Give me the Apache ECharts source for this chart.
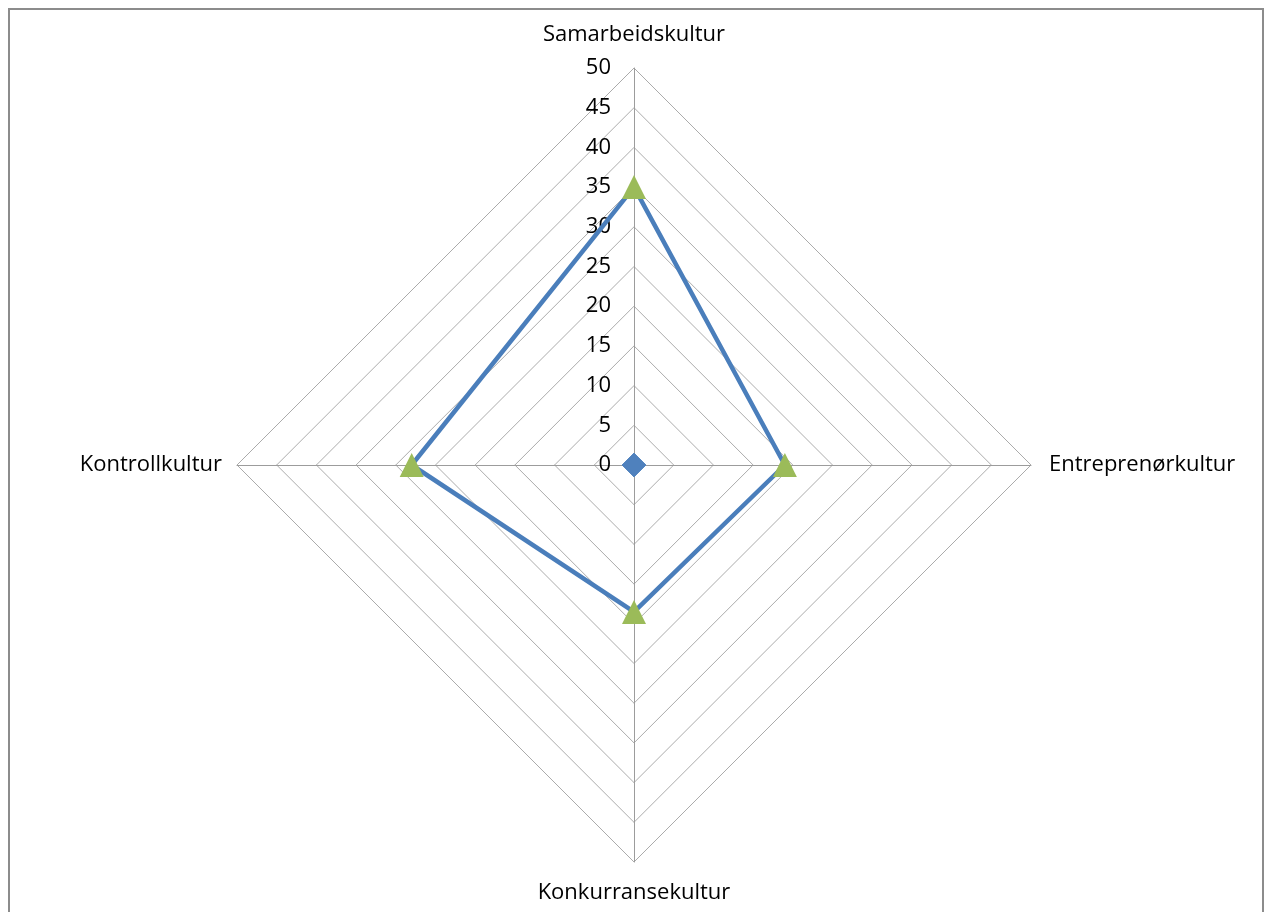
<!DOCTYPE html>
<html>
<head>
<meta charset="utf-8">
<script src="https://cdn.jsdelivr.net/npm/echarts@6/dist/echarts.min.js"></script>
<style>
  html, body { margin: 0; padding: 0; background: #fff; }
  #main { width: 1269px; height: 912px; }
  .frame { position: absolute; left: 8px; top: 8px; width: 1252px; height: 910px; border: 2px solid #8c8c8c; border-bottom: none; pointer-events: none; }
</style>
</head>
<body>
<div id="main"></div>
<div class="frame"></div>
<script>
// indicator order is counter-clockwise from the top
const categories = ['Samarbeidskultur', 'Kontrollkultur', 'Konkurransekultur', 'Entreprenørkultur'];
const baseValues = [0, 0, 0, 0];
const cultureValues = [35, 28, 18.5, 19];
const maxValue = 50;

const font = '"Open Sans", sans-serif';
const nameGaps = [22, 15, 20, 18];
const chart = echarts.init(document.getElementById('main'));

chart.setOption({
  animation: false,
  radar: {
    center: [634, 465],
    radius: 397,
    startAngle: 90,
    shape: 'polygon',
    splitNumber: 10,
    axisName: { color: '#000', fontSize: 22, fontFamily: font },
    indicator: categories.map((name, i) => ({
      name: name,
      min: 0,
      max: maxValue,
      nameGap: nameGaps[i],
      axisLabel: i === 0 ? { show: true } : undefined
    })),
    axisLabel: { show: false, color: '#000', fontSize: 22, fontFamily: font, margin: 23 },
    axisLine: { lineStyle: { color: '#9c9c9c', width: 1 } },
    splitLine: { lineStyle: { color: '#ababab', width: 1 } },
    splitArea: { show: false },
    axisTick: { show: false }
  },
  series: [
    {
      type: 'radar',
      data: [
        {
          value: baseValues,
          symbol: 'diamond',
          symbolSize: 24,
          itemStyle: { color: '#4f81bd' },
          lineStyle: { width: 0, opacity: 0 }
        },
        {
          value: cultureValues,
          symbol: 'triangle',
          symbolSize: 24,
          itemStyle: { color: '#9bbb59' },
          lineStyle: { color: '#4a7ebb', width: 4.5 }
        }
      ]
    }
  ]
});
</script>
</body>
</html>
